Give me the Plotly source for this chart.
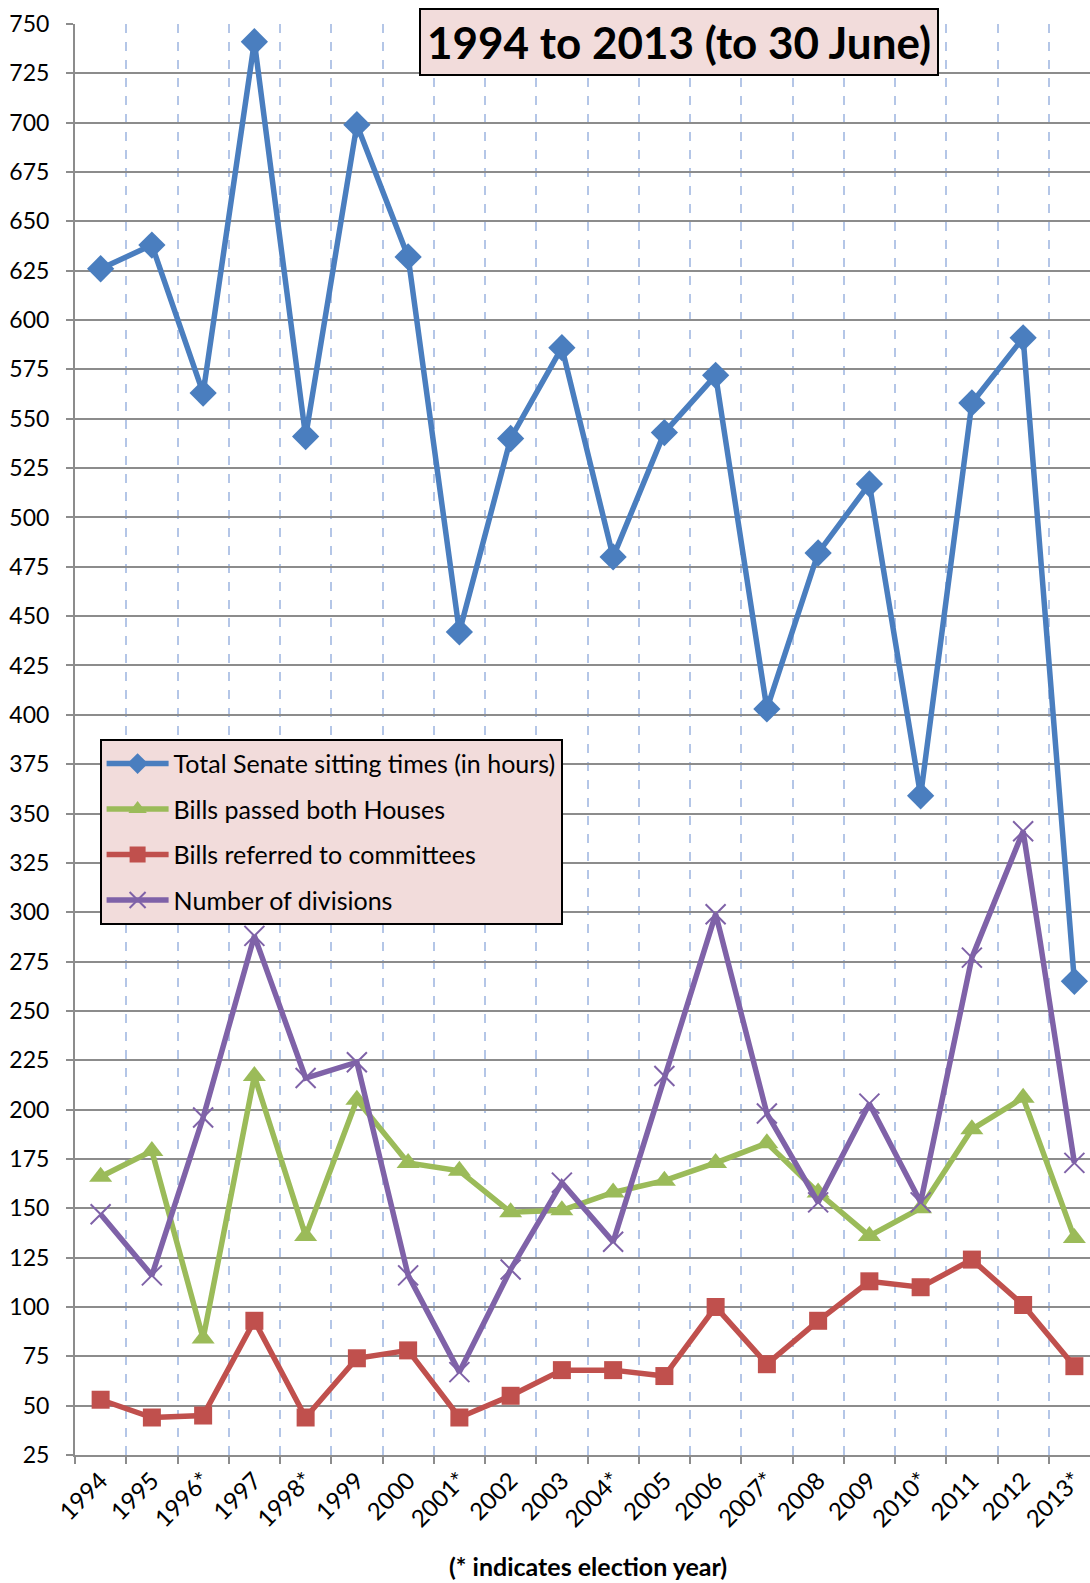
import plotly.graph_objects as go

years = ["1994", "1995", "1996*", "1997", "1998*", "1999", "2000", "2001*", "2002", "2003",
         "2004*", "2005", "2006", "2007*", "2008", "2009", "2010*", "2011", "2012", "2013*"]

sitting_hours = [626, 638, 563, 741, 541, 699, 632, 442, 540, 586,
                 480, 543, 572, 403, 482, 517, 359, 558, 591, 265]
bills_passed = [166, 179, 84, 217, 136, 205, 173, 169, 148, 149,
                158, 164, 173, 183, 158, 136, 150, 190, 206, 135]
bills_referred = [53, 44, 45, 93, 44, 74, 78, 44, 55, 68,
                  68, 65, 100, 71, 93, 113, 110, 124, 101, 70]
divisions = [147, 116, 196, 288, 216, 224, 116, 67, 119, 163,
             133, 217, 299, 198, 153, 203, 153, 277, 341, 173]

y_ticks = list(range(25, 751, 25))

series = [
    ("Total Senate sitting times (in hours)", sitting_hours, "#4A7EBF", "diamond", 21, None),
    ("Bills passed both Houses", bills_passed, "#9BBB59", "triangle-up", 20, None),
    ("Bills referred to committees", bills_referred, "#C0504D", "square", 18, None),
    ("Number of divisions", divisions, "#7F62A8", "x-thin", 20, 2),
]

fig = go.Figure()
for i, (name, vals, color, sym, size, mlw) in enumerate(series):
    marker = dict(symbol=sym, size=size, color=color)
    if mlw:
        marker["line"] = dict(width=mlw, color=color)
    fig.add_trace(go.Scatter(
        x=years, y=vals, name=name, mode="lines+markers",
        line=dict(color=color, width=5.5),
        marker=marker, legendgroup=f"g{i}",
    ))

FONT = "Lato"

fig.update_layout(
    width=1100, height=1583,
    margin=dict(l=75, r=0, t=24, b=128),
    paper_bgcolor="white", plot_bgcolor="white",
    font=dict(family=FONT, size=23, color="black"),
    showlegend=True,
    legend=dict(
        x=0.024, y=0.5005, xanchor="left", yanchor="top",
        bgcolor="#F2DCDB", bordercolor="black", borderwidth=2,
        font=dict(family=FONT, size=25, color="black"),
        tracegroupgap=10, itemwidth=62,
    ),
    annotations=[
        dict(text="<b>1994 to 2013 (to 30 June)</b>", xref="paper", yref="paper",
             x=0.589, y=1.0, xanchor="center", yanchor="middle", yshift=-18,
             showarrow=False, font=dict(family=FONT, size=44, color="black"),
             bgcolor="#F2DCDB", bordercolor="black", borderwidth=2, borderpad=6),
        dict(text="<b>(* indicates election year)</b>", xref="paper", yref="paper",
             x=0.5, y=0, xanchor="center", yanchor="middle", yshift=-111,
             showarrow=False, font=dict(family=FONT, size=25, color="black")),
    ],
)

fig.update_xaxes(
    type="category", categoryorder="array", categoryarray=years,
    tickson="boundaries", ticks="outside", ticklen=7, tickwidth=2, tickcolor="#8c8c8c",
    showgrid=True, gridcolor="#B4C6E7", griddash="dash", gridwidth=1.5,
    showline=True, linecolor="#8c8c8c", linewidth=2,
    tickangle=-45, tickfont=dict(family=FONT, size=24, color="black"),
    range=[-0.5, 19.5], automargin=False,
)
fig.update_yaxes(
    range=[25, 750], tickvals=y_ticks, ticktext=[str(v) for v in y_ticks],
    ticks="outside", ticklen=7, tickwidth=2, tickcolor="#8c8c8c",
    showgrid=True, gridcolor="#8c8c8c", gridwidth=2,
    showline=True, linecolor="#8c8c8c", linewidth=2,
    zeroline=False, ticklabelstandoff=12, automargin=False,
    tickfont=dict(family=FONT, size=23, color="black"),
)

fig.write_html("out.html", config={"displayModeBar": False},
               post_script="document.body.style.margin='0';document.body.style.overflow='hidden';")
